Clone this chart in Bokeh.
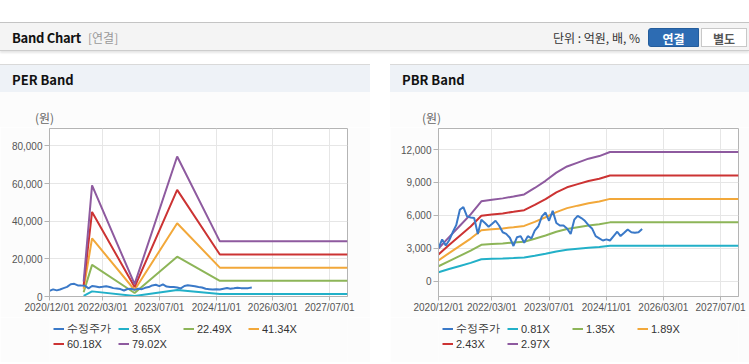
from datetime import datetime
import pandas as pd
from bokeh.plotting import figure
from bokeh.models import (Range1d, FixedTicker, DatetimeTickFormatter, NumeralTickFormatter,
                          Legend, LegendItem, Div)
from bokeh.layouts import column, row
from bokeh.embed import file_html
from bokeh.resources import INLINE

# ---------------- data ----------------
x_tick_labels = ["2020/12/01", "2022/03/01", "2023/07/01", "2024/11/01", "2026/03/01", "2027/07/01"]
x_start = "2020-12-01"
x_end = "2027-12-01"

# adjusted share price (수정주가), monthly
price_dates = pd.date_range("2020-12-01", periods=58, freq="MS")
price_values = [3000, 3800, 3250, 3700, 4450, 5100, 6500, 6750, 5900, 5800, 5750, 4300, 5600, 5300,
                4950, 5200, 5500, 5070, 4450, 4300, 3950, 3200, 4000, 4100, 3500, 4100, 3900, 4600,
                5000, 5900, 6250, 5500, 6400, 5300, 5070, 5070, 4800, 4300, 5600, 5950, 5750, 5500,
                5100, 4800, 4100, 3900, 3700, 3800, 3700, 4100, 4500, 4100, 4400, 4700, 4450, 4400,
                4450, 4750]

# PER band
per_dates = ["2021-09-20", "2021-12-01", "2022-12-01", "2023-12-01", "2024-12-01", "2027-12-01"]
per_labels = ["3.65X", "22.49X", "41.34X", "60.18X", "79.02X"]
per_365 = [365, 2727, 305, 3438, 1354, 1354]
per_2249 = [2249, 16800, 1878, 21186, 8344, 8344]
per_4134 = [4134, 30881, 3452, 38942, 15337, 15337]
per_6018 = [6018, 44954, 5025, 56690, 22327, 22327]
per_7902 = [7902, 59028, 6598, 74437, 29316, 29316]
per_y_ticks = [0, 20000, 40000, 60000, 80000]

# PBR band
pbr_dates = ["2020-12-01", "2021-03-01", "2021-06-01", "2021-09-01", "2021-12-01", "2022-03-01",
             "2022-06-01", "2022-09-01", "2022-12-01", "2023-03-01", "2023-06-01", "2023-09-01",
             "2023-12-01", "2024-03-01", "2024-06-01", "2024-09-01", "2024-12-01", "2027-12-01"]
pbr_labels = ["0.81X", "1.35X", "1.89X", "2.43X", "2.97X"]
pbr_081 = [810, 1094, 1377, 1661, 1985, 2025, 2057, 2106, 2156, 2317, 2495, 2697, 2851, 2948, 3046, 3110, 3212, 3212]
pbr_135 = [1350, 1823, 2295, 2768, 3308, 3375, 3429, 3510, 3594, 3861, 4158, 4496, 4752, 4914, 5076, 5184, 5354, 5354]
pbr_189 = [1890, 2552, 3213, 3875, 4631, 4725, 4801, 4914, 5031, 5405, 5821, 6294, 6653, 6880, 7106, 7258, 7496, 7496]
pbr_243 = [2430, 3281, 4131, 4982, 5954, 6075, 6172, 6318, 6469, 6950, 7484, 8092, 8554, 8845, 9137, 9331, 9637, 9637]
pbr_297 = [2970, 4010, 5049, 6089, 7277, 7425, 7544, 7722, 7906, 8494, 9148, 9890, 10454, 10811, 11167, 11405, 11779, 11779]
pbr_y_ticks = [0, 3000, 6000, 9000, 12000]

price_label = "수정주가"
band_colors = ["#22b0c8", "#8db558", "#f2a83a", "#cc3333", "#8e5a9f"]
price_color = "#3a79c8"

FONT_UI = "'Noto Sans CJK KR', 'Noto Sans', sans-serif"
TICK_FONT = "Liberation Sans"
PANEL_BG = "#fcfcfc"


def to_dt(s):
    return pd.Timestamp(s).to_pydatetime()


price_x = [d.to_pydatetime() for d in price_dates]


def make_chart(width, border_left, border_right, y_start, y_end, y_ticks, band_dates, bands):
    p = figure(width=width, height=190, x_axis_type="datetime", output_backend="svg",
               toolbar_location=None, tools="",
               x_range=Range1d(to_dt(x_start), to_dt(x_end)), y_range=Range1d(y_start, y_end),
               min_border_left=border_left, min_border_right=border_right,
               min_border_top=1, min_border_bottom=21,
               background_fill_color="#ffffff", border_fill_color=PANEL_BG,
               outline_line_color="#b4b4b4", outline_line_width=1)
    bx = [to_dt(d) for d in band_dates]
    for vals, col in zip(bands, band_colors):
        p.line(bx, vals, line_color=col, line_width=2)
    p.line(price_x, price_values, line_color=price_color, line_width=2)

    tick_dates = [datetime.strptime(t, "%Y/%m/%d") for t in x_tick_labels]
    p.xaxis.ticker = FixedTicker(ticks=[pd.Timestamp(d).value / 1e6 for d in tick_dates])
    fmt = "%Y/%m/%d"
    p.xaxis.formatter = DatetimeTickFormatter(years=fmt, months=fmt, days=fmt, hours=fmt,
                                              minutes=fmt, seconds=fmt, milliseconds=fmt,
                                              microseconds=fmt, hourmin=fmt, minsec=fmt)
    p.yaxis.ticker = FixedTicker(ticks=y_ticks)
    p.yaxis.formatter = NumeralTickFormatter(format="0,0")
    for ax in (p.xaxis[0], p.yaxis[0]):
        ax.axis_line_color = "#b4b4b4"
        ax.major_tick_line_color = "#b4b4b4"
        ax.minor_tick_line_color = None
        ax.major_tick_in = 0
        ax.major_label_text_font = TICK_FONT
        ax.major_label_text_font_size = "10px"
        ax.major_label_text_color = "#555555"
    p.xaxis.major_tick_out = 4
    p.xaxis.major_label_standoff = 1
    p.yaxis.major_tick_out = 5
    p.yaxis.major_label_standoff = 2
    p.xgrid.grid_line_color = "#e6e6e6"
    p.ygrid.grid_line_color = "#e6e6e6"
    return p


def make_legend(width, labels, band_dates, bands, leg_x):
    # legend strip: the series are drawn again here (outside this strip's view) so that
    # the legend entries carry their line samples
    lp = figure(width=width, height=45, output_backend="svg", toolbar_location=None, tools="",
                x_range=Range1d(0, 1), y_range=Range1d(0, 1),
                x_axis_location=None, y_axis_location=None,
                min_border_left=0, min_border_right=0, min_border_top=0, min_border_bottom=0,
                background_fill_color=PANEL_BG, border_fill_color=PANEL_BG,
                outline_line_color=None)
    lp.grid.visible = False
    bx = [to_dt(d) for d in band_dates]
    items = [LegendItem(label=price_label,
                        renderers=[lp.line(price_x, price_values, line_color=price_color, line_width=2)])]
    for lab, vals, col in zip(labels, bands, band_colors):
        items.append(LegendItem(label=lab,
                                renderers=[lp.line(bx, vals, line_color=col, line_width=2)]))
    for chunk, ly in ((items[:4], 26), (items[4:], 11)):
        leg = Legend(items=chunk, orientation="horizontal", location=(leg_x, ly),
                     label_text_font=TICK_FONT, label_text_font_size="11px",
                     label_text_color="#333333",
                     glyph_width=11, glyph_height=15, label_height=15, label_width=51,
                     label_standoff=3, spacing=0, padding=0, margin=0,
                     background_fill_alpha=0, border_line_alpha=0)
        lp.add_layout(leg)
    return lp


def title_div(width, title, unit_left):
    html = (
        f'<div style="position:relative;width:{width}px;height:63px;background:{PANEL_BG};'
        f'font-family:{FONT_UI};overflow:hidden;">'
        f'<div style="position:absolute;left:0;top:0;width:{width}px;height:28px;background:#eef2f7;'
        f'border-top:1px solid #d9d9d9;"></div>'
        f'<div style="position:absolute;left:12px;top:7px;line-height:18px;font-size:13px;'
        f'font-weight:bold;color:#111;white-space:nowrap;">{title}</div>'
        f'<div style="position:absolute;left:{unit_left}px;top:45px;line-height:18px;font-size:12px;'
        f'color:#666;white-space:nowrap;">(원)</div></div>'
    )
    return Div(text=html, width=width, height=63, margin=0)


def bottom_div(width):
    html = f'<div style="width:{width}px;height:1px;background:#d4d4d4;"></div>'
    return Div(text=html, width=width, height=2, margin=0)


header_html = (
    f'<div style="position:relative;width:749px;height:64px;background:#ffffff;font-family:{FONT_UI};overflow:hidden;">'
    '<div style="position:absolute;left:0;top:22px;width:749px;height:29px;background:#f4f4f4;'
    'border-top:1px solid #c4c4c4;border-bottom:1px solid #cdcdcd;box-shadow:0 2px 2px rgba(0,0,0,0.10);"></div>'
    '<div style="position:absolute;left:12px;top:29px;line-height:18px;font-size:13px;font-weight:bold;'
    'color:#111;white-space:nowrap;letter-spacing:-0.3px;">Band Chart</div>'
    '<div style="position:absolute;left:88px;top:29px;line-height:18px;font-size:12px;color:#999;white-space:nowrap;">[연결]</div>'
    '<div style="position:absolute;left:553px;top:29px;line-height:18px;font-size:12px;color:#333;white-space:nowrap;">단위 : 억원, 배, %</div>'
    '<div style="position:absolute;left:648px;top:28px;width:51px;height:19px;line-height:19px;background:#2d6cb3;'
    'border:1px solid #245d9c;border-radius:3px 0 0 3px;color:#fff;font-size:12px;font-weight:bold;text-align:center;">연결</div>'
    '<div style="position:absolute;left:701px;top:28px;width:46px;height:19px;line-height:19px;background:#ffffff;'
    'border:1px solid #c8c8c8;color:#555;font-size:12px;font-weight:bold;text-align:center;">별도</div>'
    '</div>'
)
header = Div(text=header_html, width=749, height=64, margin=0)

per_bands = [per_365, per_2249, per_4134, per_6018, per_7902]
pbr_bands = [pbr_081, pbr_135, pbr_189, pbr_243, pbr_297]

per_chart = make_chart(370, 49, 23, 0, 89300, per_y_ticks, per_dates, per_bands)
pbr_chart = make_chart(359, 48, 11, -1410, 13920, pbr_y_ticks, pbr_dates, pbr_bands)

left_col = column(title_div(370, "PER Band", 35), per_chart,
                  make_legend(370, per_labels, per_dates, per_bands, 4),
                  bottom_div(370), spacing=0)
gap = Div(text="", width=20, height=300, margin=0)
right_col = column(title_div(359, "PBR Band", 32), pbr_chart,
                   make_legend(359, pbr_labels, pbr_dates, pbr_bands, 4),
                   bottom_div(359), spacing=0)

root = column(header, row(left_col, gap, right_col, spacing=0), spacing=0)

open("out.html", "w").write(file_html(root, INLINE))
